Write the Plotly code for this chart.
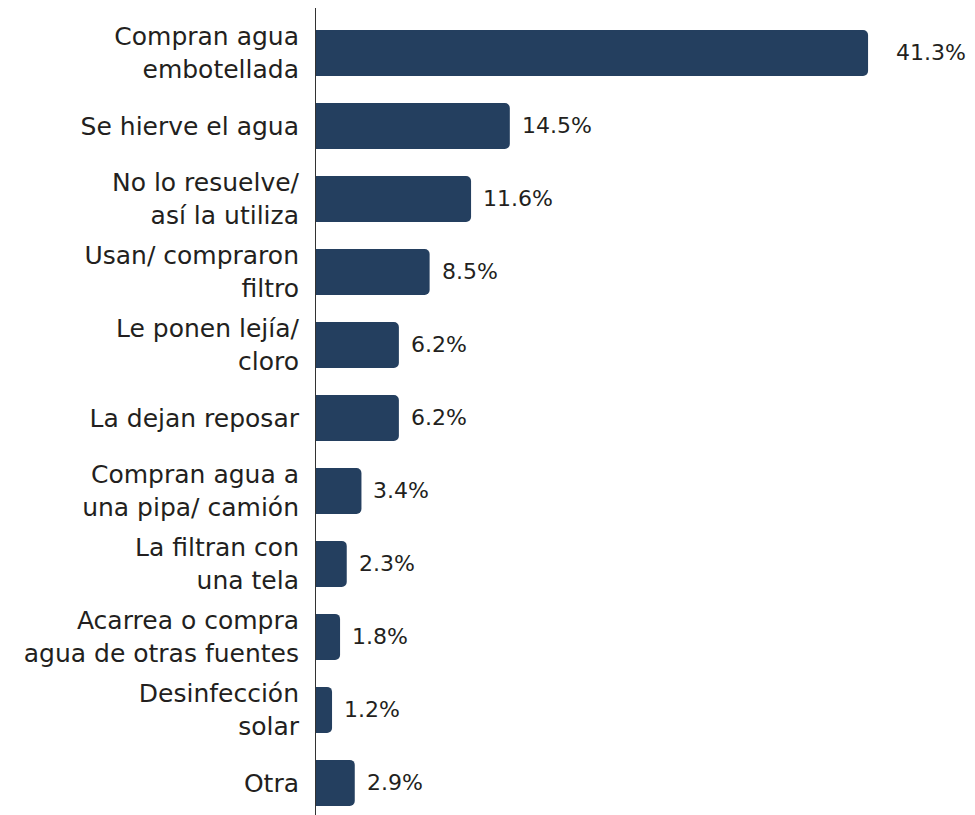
import plotly.graph_objects as go

categories = [
    "Compran agua<br>embotellada",
    "Se hierve el agua",
    "No lo resuelve/<br>así la utiliza",
    "Usan/ compraron<br>filtro",
    "Le ponen lejía/<br>cloro",
    "La dejan reposar",
    "Compran agua a<br>una pipa/ camión",
    "La filtran con<br>una tela",
    "Acarrea o compra<br>agua de otras fuentes",
    "Desinfección<br>solar",
    "Otra",
]
values = [41.3, 14.5, 11.6, 8.5, 6.2, 6.2, 3.4, 2.3, 1.8, 1.2, 2.9]
value_labels = [f"{v:.1f}%" for v in values]

BAR_COLOR = "#243f5f"
TEXT_COLOR = "#231f20"
FONT = "DejaVu Sans"

fig = go.Figure()
fig.add_trace(go.Bar(
    x=values,
    y=categories,
    orientation="h",
    marker=dict(color=BAR_COLOR, line=dict(width=0)),
    hoverinfo="skip",
))

for i, (v, c, lab) in enumerate(zip(values, categories, value_labels)):
    fig.add_annotation(
        x=v, y=c, text=lab, showarrow=False,
        xanchor="left", yanchor="middle",
        xshift=26 if i == 0 else 10,
        font=dict(family=FONT, size=22, color=TEXT_COLOR),
    )

# page body has an 8px margin, so the figure is sized to fit the window
fig.update_layout(
    width=967, height=807,
    margin=dict(l=308, r=0, t=0, b=0),
    paper_bgcolor="white", plot_bgcolor="white",
    bargap=0.37,
    barcornerradius=5,
    showlegend=False,
    font=dict(family=FONT, size=25, color=TEXT_COLOR),
)
fig.update_xaxes(
    range=[0, 49.3], visible=False, showgrid=False, zeroline=False,
    automargin=False,
)
fig.update_yaxes(
    autorange=False, range=[10.44, -0.616], automargin=False,
    showline=True, linecolor="#333333", linewidth=1,
    showgrid=False, zeroline=False, ticks="",
    ticklabelstandoff=11,
    tickfont=dict(family=FONT, size=25, color=TEXT_COLOR),
)

fig.write_html("out.html")
